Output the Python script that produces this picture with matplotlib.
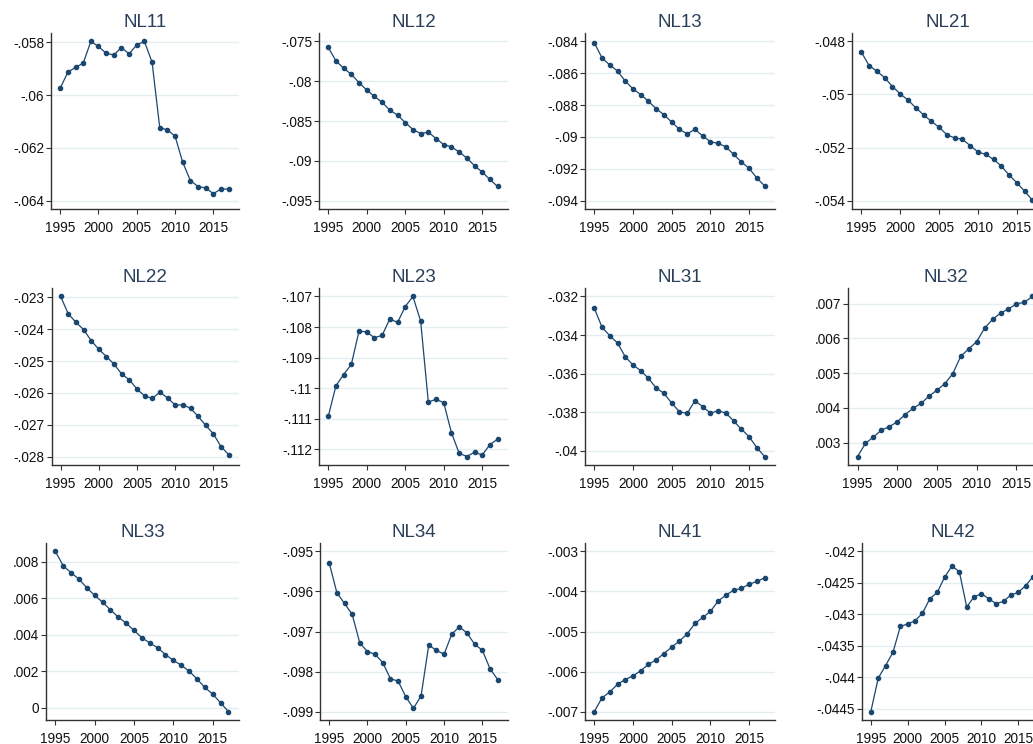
import matplotlib
matplotlib.use("Agg")
import matplotlib.pyplot as plt
import numpy as np

years = list(range(1995, 2018))
xticks = [1995, 2000, 2005, 2010, 2015]

nl11 = [-.05974, -.05914, -.05895, -.05880, -.05797, -.05816, -.05842, -.05848, -.05820, -.05844, -.05810, -.05797,
        -.05876, -.06124, -.06132, -.06156, -.06255, -.06324, -.06347, -.06352, -.06374, -.06356, -.06357]
nl12 = [-.07576, -.07744, -.07837, -.07913, -.08018, -.08111, -.08191, -.08266, -.08363, -.08426, -.08519, -.08607,
        -.08658, -.08641, -.08720, -.08797, -.08826, -.08889, -.08965, -.09062, -.09142, -.09235, -.09323]
nl13 = [-.08408, -.08504, -.08548, -.08586, -.08649, -.08698, -.08734, -.08776, -.08823, -.08861, -.08907, -.08952,
        -.08981, -.08952, -.08994, -.09030, -.09041, -.09062, -.09110, -.09157, -.09197, -.09258, -.09307]
nl21 = [-.04840, -.04891, -.04912, -.04937, -.04970, -.04998, -.05021, -.05050, -.05077, -.05101, -.05124, -.05152,
        -.05164, -.05169, -.05193, -.05217, -.05226, -.05245, -.05270, -.05304, -.05333, -.05365, -.05399]
nl22 = [-.02297, -.02352, -.02378, -.02401, -.02436, -.02463, -.02486, -.02510, -.02541, -.02559, -.02588, -.02610,
        -.02617, -.02598, -.02616, -.02638, -.02638, -.02648, -.02674, -.02702, -.02729, -.02769, -.02794]
nl23 = [-.11092, -.10992, -.10955, -.10922, -.10813, -.10816, -.10835, -.10827, -.10773, -.10785, -.10733, -.10700,
        -.10780, -.11045, -.11036, -.11047, -.11145, -.11212, -.11223, -.11209, -.11218, -.11184, -.11166]
nl31 = [-.03261, -.03359, -.03403, -.03441, -.03512, -.03555, -.03584, -.03624, -.03674, -.03702, -.03752, -.03797,
        -.03806, -.03740, -.03770, -.03804, -.03792, -.03804, -.03844, -.03887, -.03926, -.03983, -.04029]
nl32 = [.00260, .00298, .00316, .00336, .00346, .00360, .00381, .00399, .00413, .00434, .00451, .00470,
        .00499, .00549, .00570, .00591, .00630, .00655, .00673, .00685, .00700, .00704, .00721]
nl33 = [.00855, .00776, .00738, .00703, .00656, .00614, .00577, .00535, .00495, .00462, .00422, .00382,
        .00354, .00327, .00290, .00258, .00232, .00199, .00157, .00110, .00073, .00026, -.00022]
nl34 = [-.09528, -.09603, -.09630, -.09657, -.09729, -.09750, -.09757, -.09778, -.09818, -.09824, -.09863, -.09892,
        -.09861, -.09734, -.09747, -.09757, -.09707, -.09688, -.09704, -.09732, -.09747, -.09793, -.09820]
nl41 = [-.00700, -.00666, -.00651, -.00632, -.00620, -.00611, -.00598, -.00582, -.00571, -.00555, -.00539, -.00524,
        -.00506, -.00480, -.00465, -.00450, -.00424, -.00409, -.00397, -.00392, -.00382, -.00375, -.00366]
nl42 = [-.04454, -.04401, -.04381, -.04360, -.04319, -.04315, -.04310, -.04298, -.04275, -.04265, -.04241, -.04223,
        -.04232, -.04288, -.04272, -.04267, -.04275, -.04283, -.04279, -.04269, -.04265, -.04254, -.04240]

titles = ["NL11", "NL12", "NL13", "NL21", "NL22", "NL23", "NL31", "NL32", "NL33", "NL34", "NL41", "NL42"]
series = [nl11, nl12, nl13, nl21, nl22, nl23, nl31, nl32, nl33, nl34, nl41, nl42]
yticks = [
    [-.058, -.06, -.062, -.064],
    [-.075, -.08, -.085, -.09, -.095],
    [-.084, -.086, -.088, -.09, -.092, -.094],
    [-.048, -.05, -.052, -.054],
    [-.023, -.024, -.025, -.026, -.027, -.028],
    [-.107, -.108, -.109, -.11, -.111, -.112],
    [-.032, -.034, -.036, -.038, -.04],
    [.003, .004, .005, .006, .007],
    [0, .002, .004, .006, .008],
    [-.095, -.096, -.097, -.098, -.099],
    [-.003, -.004, -.005, -.006, -.007],
    [-.042, -.0425, -.043, -.0435, -.044, -.0445],
]

def stata_fmt(v):
    s = f"{v:.4f}".rstrip('0').rstrip('.')
    if s.startswith("-0."):
        s = "-" + s[2:]
    elif s.startswith("0."):
        s = s[1:]
    if s in ("-0", ""):
        s = "0"
    return s

# layout (pixels)
W, H = 1033, 744
rows_px = [(33, 209), (288, 465), (543, 720)]
lefts_px = [[51, 319, 585, 852], [51.5, 319, 585, 848], [46, 320, 585, 862]]
rights_px = [239, 508, 775, 1043]

LINE = '#1a476f'
GRID = '#e4edf0'
TITLE = '#2a3f5a'
AX = '#333333'

plt.rcParams['font.family'] = ['Liberation Sans', 'DejaVu Sans']
fig = plt.figure(figsize=(W / 100, H / 100), dpi=100)
fig.patch.set_facecolor('white')

for i in range(12):
    r, c = divmod(i, 4)
    top, bot = rows_px[r]
    left = lefts_px[r][c]
    right = rights_px[c]
    ax = fig.add_axes([left / W, 1 - bot / H, (right - left) / W, (bot - top) / H])
    y = np.array(series[i])
    ax.plot(years, y, color=LINE, lw=0.9, marker='o', ms=3.0, mfc=LINE, mec=LINE, zorder=3)
    tk = yticks[i]
    lo = min(y.min(), min(tk))
    hi = max(y.max(), max(tk))
    pad = (hi - lo) * 0.053
    ax.set_ylim(lo - pad, hi + pad)
    ax.set_xlim(1995 - 1.2, 2017 + 1.35)
    ax.set_yticks(tk)
    ax.set_yticklabels([stata_fmt(v) for v in tk])
    ax.set_xticks(xticks)
    ax.set_xticklabels([str(v) for v in xticks])
    ax.grid(axis='y', color=GRID, lw=1.0, zorder=0)
    ax.grid(axis='x', visible=False)
    for s in ['top', 'right']:
        ax.spines[s].set_visible(False)
    for s in ['left', 'bottom']:
        ax.spines[s].set_color(AX)
        ax.spines[s].set_linewidth(1.0)
    ax.tick_params(axis='y', direction='out', length=3.5, width=0.8, color=AX, pad=1.5,
                   labelsize=9.8, labelcolor='#111111')
    ax.tick_params(axis='x', direction='out', length=3.5, width=0.8, color=AX, pad=5.0,
                   labelsize=9.8, labelcolor='#111111')
    ax.set_title(titles[i], fontsize=13.5, color=TITLE, pad=4.0)
    ax.set_facecolor('white')

fig.savefig("out.png", dpi=100, facecolor='white')
